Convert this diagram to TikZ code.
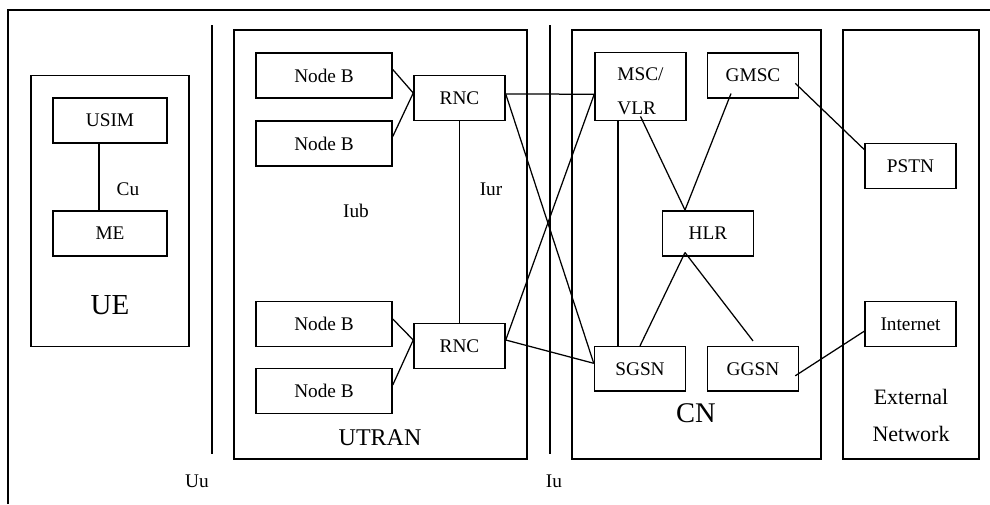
\documentclass[tikz,border=0pt]{standalone}
\usepackage{fontspec}
\setmainfont{Liberation Serif}
\newcommand\dgmsmall{\fontsize{19.3}{23}\selectfont}
\begin{document}
\begin{tikzpicture}[x=1pt,y=-1pt,
  box/.style={draw, line width=1.5pt, rectangle, inner sep=0pt, font=\dgmsmall},
  unitbox/.style={box, minimum width=91pt, minimum height=45pt},
  nodeb/.style={box, minimum width=136pt, minimum height=45pt},
  area/.style={draw, line width=1.5pt, rectangle, inner sep=0pt},
  conn/.style={line width=1.25pt},
  lbl/.style={anchor=base, inner sep=0pt, font=\dgmsmall},
  biglbl/.style={anchor=base, inner sep=0pt, font=\fontsize{29}{34}\selectfont}]
\useasboundingbox (0,0) rectangle (990,504);

% outer frame (open to the right and bottom)
\coordinate (fbl) at (8,504);
\coordinate (ftl) at (8,10);
\coordinate (ftr) at (990,10);
\draw[line width=1.5pt] (fbl) -- (ftl) -- (ftr);

% domain areas
\node[area, minimum width=158pt, minimum height=271.4pt] (ue) at (110,211) {};
\node[area, minimum width=293pt, minimum height=429pt] (utran) at (380.5,244.5) {};
\node[area, minimum width=249pt, minimum height=429pt] (cn) at (696.5,244.5) {};
\node[area, minimum width=136pt, minimum height=429pt] (ext) at (911,244.5) {};

% UE
\node[box, minimum width=114pt, minimum height=45pt] (usim) at (110,120.5) {USIM};
\node[box, minimum width=114pt, minimum height=45pt] (me) at (110,233.5) {ME};
\draw[conn] ([xshift=-11pt]usim.south) -- ([xshift=-11pt]me.north);

% UTRAN
\node[nodeb] (nb1) at (324,75.5) {Node B};
\node[nodeb] (nb2) at (324,143.5) {Node B};
\node[nodeb] (nb3) at (324,324) {Node B};
\node[nodeb] (nb4) at (324,391) {Node B};
\node[unitbox] (rnc1) at (459.5,98) {RNC};
\node[unitbox] (rnc2) at (459.5,346) {RNC};

\draw[conn] ([yshift=6pt]nb1.east) -- ([yshift=5pt]rnc1.west);
\draw[conn] ([yshift=7pt]nb2.east) -- ([yshift=5pt]rnc1.west);
\draw[conn] ([yshift=5pt]nb3.east) -- ([yshift=6pt]rnc2.west);
\draw[conn] ([yshift=6pt]nb4.east) -- ([yshift=6pt]rnc2.west);
\draw[conn] (rnc1.south) -- (rnc2.north);

% CN
\node[box, minimum width=91pt, minimum height=68pt, align=left] (msc) at (640.5,86.7)
  {\rule{0pt}{21pt}MSC/\\[11pt]VLR};
\node[unitbox] (gmsc) at (753,75.3) {GMSC};
\node[unitbox] (hlr) at (708,233.3) {HLR};
\node[unitbox, minimum height=44.3pt] (sgsn) at (640,368.8) {SGSN};
\node[unitbox, minimum height=44.3pt] (ggsn) at (753,368.8) {GGSN};

% external networks
\node[unitbox] (pstn) at (910.5,165.8) {PSTN};
\node[unitbox] (inet) at (910.5,324.2) {Internet};

% RNC to core links
\coordinate (r1out) at ([yshift=4pt]rnc1.east);
\coordinate (r2out) at ([yshift=6pt]rnc2.east);
\coordinate (mscin) at ([yshift=-7.5pt]msc.west);
\coordinate (sgsnin) at ([yshift=5.5pt]sgsn.west);
\draw[conn] (r1out) -- (mscin);
\draw[conn] (r1out) -- (sgsnin);
\draw[conn] (r2out) -- (mscin);
\draw[conn] (r2out) -- (sgsnin);

% core links
\coordinate (mscv) at ([xshift=-22.5pt]msc.south);
\draw[conn] (mscv) -- (mscv |- sgsn.north);
\coordinate (hlrtop) at ([xshift=-23pt]hlr.north);
\coordinate (hlrbot) at ([xshift=-23pt,yshift=4pt]hlr.south);
\draw[conn] ([yshift=5pt]msc.south) -- (hlrtop);
\draw[conn] ([xshift=-22pt,yshift=5pt]gmsc.south) -- (hlrtop);
\draw[conn] (hlrbot) -- (sgsn.north);
\draw[conn] (hlrbot) -- ([yshift=5pt]ggsn.north);
\draw[conn] ([xshift=-4pt,yshift=-8pt]gmsc.east) -- ([yshift=-7pt]pstn.north west);
\draw[conn] ([xshift=-4pt,yshift=-7pt]ggsn.east) -- ([yshift=-7pt]inet.west);

% reference points
\coordinate (uutop) at (212,25);
\coordinate (uubot) at (212,454);
\coordinate (iutop) at (550,25);
\coordinate (iubot) at (550,454);
\draw[conn] (uutop) -- (uubot);
\draw[conn] (iutop) -- (iubot);

% labels
\node[lbl] (cu) at (128,195) {Cu};
\node[lbl] (iub) at (356,217) {Iub};
\node[lbl] (iur) at (491,195) {Iur};
\node[lbl] (uu) at (197,487.3) {Uu};
\node[lbl] (iu) at (554,487.3) {Iu};
\node[biglbl] (uelbl) at (110,314.3) {UE};
\node[anchor=base, inner sep=0pt, font=\fontsize{24}{28}\selectfont] (utranlbl) at (380,445) {UTRAN};
\node[biglbl, font=\fontsize{28.5}{33}\selectfont] (cnlbl) at (696,422.3) {CN};
\node[anchor=base, inner sep=0pt, font=\fontsize{22}{26}\selectfont] (extlbl1) at (911,404) {External};
\node[anchor=base, inner sep=0pt, font=\fontsize{22}{26}\selectfont] (extlbl2) at (911,441.7) {Network};
\end{tikzpicture}
\end{document}
